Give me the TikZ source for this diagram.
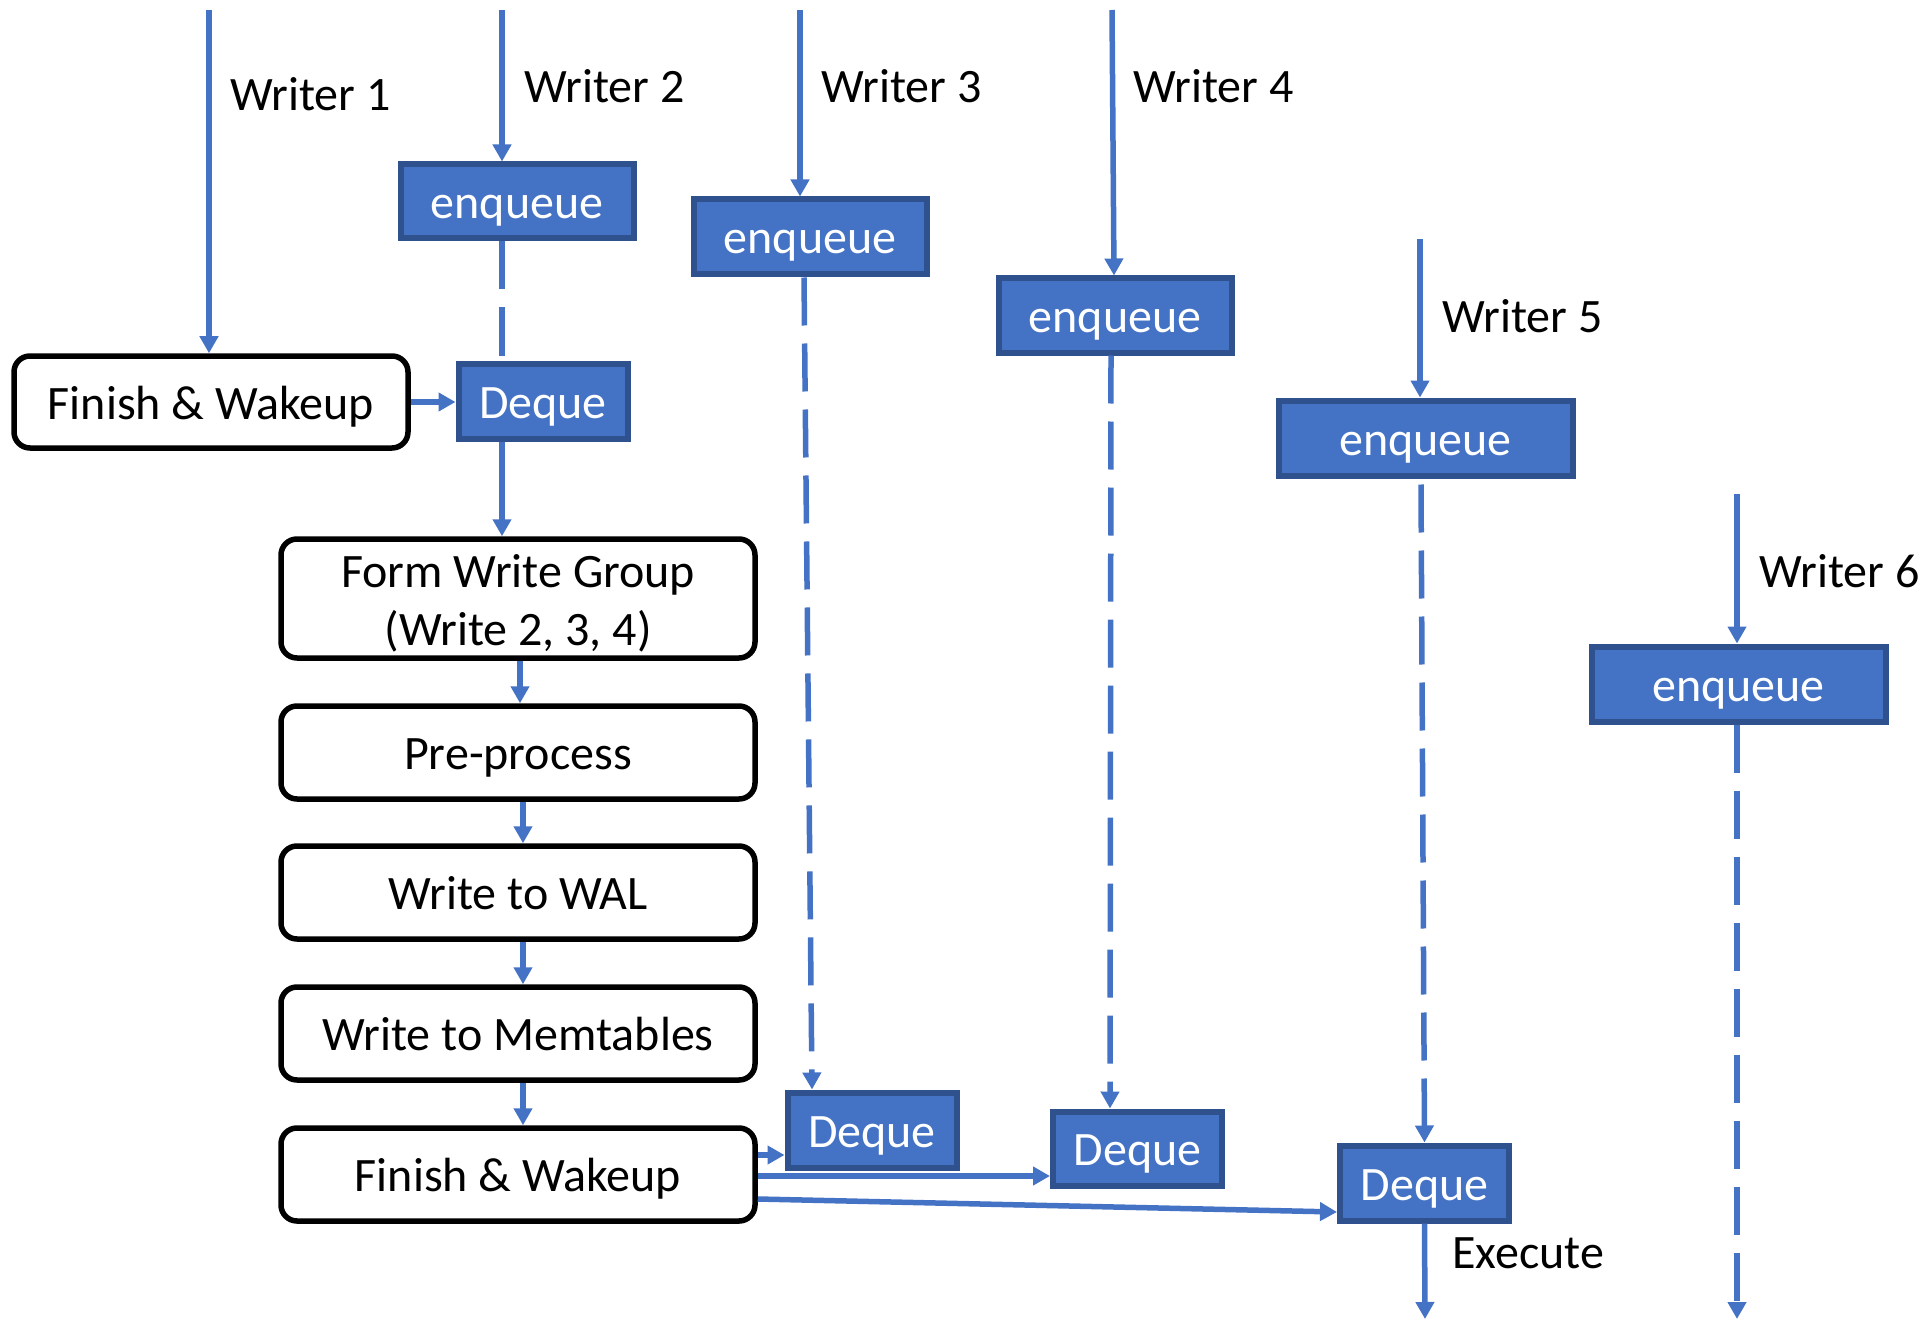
\documentclass[tikz,border=0pt]{standalone}
\usepackage{fontspec}
\setmainfont{Carlito}
\usetikzlibrary{arrows.meta}
\definecolor{bfill}{HTML}{4472C4}
\definecolor{bdraw}{HTML}{2F528F}
\definecolor{bline}{HTML}{4472C4}
\begin{document}
\begin{tikzpicture}[x=1pt,y=-1pt,
  every node/.style={font=\fontsize{48}{58}\selectfont, inner sep=0pt},
  sline/.style={text height=39pt, text depth=5pt},
  bluebox/.style={draw=bdraw, fill=bfill, line width=6pt, text=white, sline},
  procbox/.style={draw=black, line width=5.5pt, rounded corners=16pt, fill=white, minimum width=474pt, minimum height=93pt, align=center},
  conn/.style={draw=bline, line width=5.5pt},
  arr/.style={conn, -{Triangle[width=18pt,length=17pt]}},
  dsh/.style={conn, dash pattern=on 48pt off 18pt},
  dsharr/.style={dsh, -{Triangle[width=18pt,length=17pt]}},
  lbl/.style={anchor=west, sline},
]
\useasboundingbox (0,0) rectangle (1921,1321);

% nodes
\node[procbox, sline, minimum width=394pt, minimum height=92pt] (fw1) at (211,402) {Finish \& Wakeup};
\node[bluebox, minimum width=233pt, minimum height=74pt] (enq2) at (517,201.5) {enqueue};
\node[bluebox, minimum width=169pt, minimum height=75pt] (deq1) at (543,401) {Deque};
\node[procbox, minimum height=119pt] (form) at (518,598.5) {\raisebox{-6pt}[\height][\depth]{\begin{tabular}{@{}c@{}}Form Write Group\\(Write 2, 3, 4)\end{tabular}}};
\node[procbox, sline] (pre) at (518,752.5) {Pre-process};
\node[procbox, sline] (wal) at (518,892.5) {Write to WAL};
\node[procbox, sline] (mem) at (518,1033.5) {Write to Memtables};
\node[procbox, sline] (fw2) at (518,1174.5) {Finish \& Wakeup};

\node[bluebox, minimum width=233pt, minimum height=75pt] (enq3) at (810,237) {enqueue};
\node[bluebox, minimum width=169pt, minimum height=75pt] (deq3) at (872,1130) {Deque};
\node[bluebox, minimum width=233pt, minimum height=74pt] (enq4) at (1115,315.5) {enqueue};
\node[bluebox, minimum width=169pt, minimum height=74pt] (deq4) at (1137.5,1148.5) {Deque};
\node[bluebox, minimum width=294pt, minimum height=75pt] (enq5) at (1425.5,438) {enqueue};
\node[bluebox, minimum width=169pt, minimum height=75pt] (deq5) at (1424.5,1183) {Deque};
\node[bluebox, minimum width=294pt, minimum height=75pt] (enq6) at (1738.5,684) {enqueue};

% labels
\node[lbl] (l1) at (230,94) {Writer 1};
\node[lbl] (l2) at (524,86) {Writer 2};
\node[lbl] (l3) at (821,86) {Writer 3};
\node[lbl] (l4) at (1133,86) {Writer 4};
\node[lbl] (l5) at (1442,316) {Writer 5};
\node[lbl] (l6) at (1759,570) {Writer 6};
\node[lbl] (lex) at (1452,1251) {Execute};

% free ends
\coordinate (w1) at (209,10);
\coordinate (w2) at (502,10);
\coordinate (w3) at (800,10);
\coordinate (w4) at (1112,10);
\coordinate (w5) at (1420,239);
\coordinate (w6) at (1737,494);
\coordinate (ex) at (1425,1319);
\coordinate (e6) at (1737,1319);

% writer 1
\draw[arr] (w1) -- (w1 |- fw1.north);
% writer 2
\draw[arr] (w2) -- (w2 |- enq2.north);
\draw[dsh] (w2 |- enq2.south) -- (w2 |- deq1.north);
\draw[arr] (fw1.east) -- (fw1.east -| deq1.west);
\draw[arr] (w2 |- deq1.south) -- (w2 |- form.north);
\draw[arr] ([xshift=2pt]form.south) -- ([xshift=2pt]pre.north);
\draw[arr] ([xshift=5pt]pre.south) -- ([xshift=5pt]wal.north);
\draw[arr] ([xshift=5pt]wal.south) -- ([xshift=5pt]mem.north);
\draw[arr] ([xshift=5pt]mem.south) -- ([xshift=5pt]fw2.north);
% writer 3
\draw[arr] (w3) -- (w3 |- enq3.north);
\draw[dsharr] ([xshift=-6pt]enq3.south) -- ([xshift=-60pt]deq3.north);
% writer 4
\draw[arr] (w4) -- ([xshift=-1pt]enq4.north);
\draw[dsharr] ([xshift=-4pt]enq4.south) -- ([xshift=-27.5pt]deq4.north);
% writer 5
\draw[arr] (w5) -- (w5 |- enq5.north);
\draw[dsharr] ([xshift=-4.5pt,yshift=-6pt]enq5.south) -- (deq5.north);
\draw[arr] (deq5.south) -- (ex);
% writer 6
\draw[arr] (w6) -- (w6 |- enq6.north);
\draw[dsharr] (w6 |- enq6.south) -- (e6);
% finish & wakeup to deques
\draw[arr] ([yshift=19.5pt]fw2.east) -- ([yshift=19.5pt]fw2.east -| deq3.west);
\draw[arr] ([yshift=-1.5pt]fw2.east) -- ([yshift=-1.5pt]fw2.east -| deq4.west);
\draw[arr] ([yshift=-24.5pt]fw2.east) -- ([yshift=-29pt]deq5.west);
\end{tikzpicture}
\end{document}
